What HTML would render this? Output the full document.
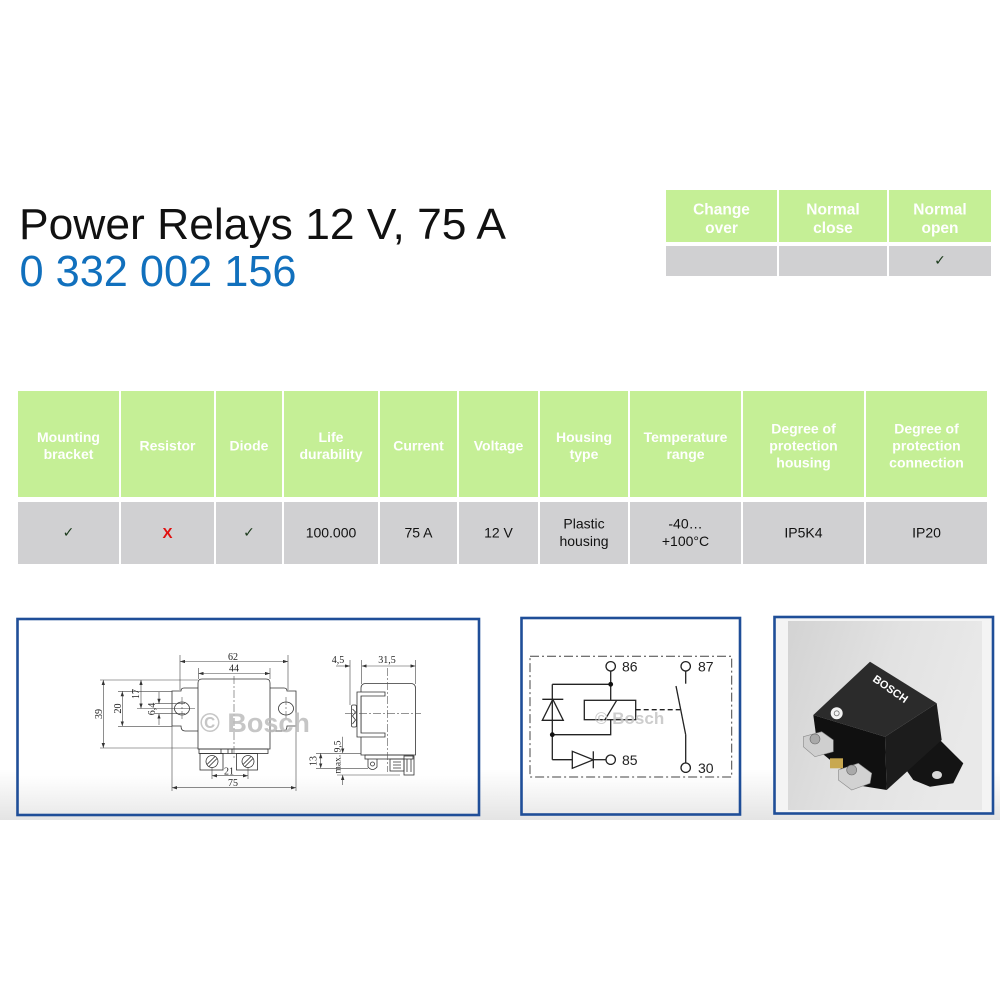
<!DOCTYPE html>
<html><head><meta charset="utf-8">
<style>
html,body{margin:0;padding:0;background:#fff;width:1000px;height:1000px;overflow:hidden;}
svg{display:block;}
</style></head><body>
<svg width="1000" height="1000" viewBox="0 0 1000 1000" xmlns="http://www.w3.org/2000/svg" font-family="'Liberation Sans', Arial, sans-serif">
<defs>
<linearGradient id="band" x1="0" y1="0" x2="0" y2="1">
 <stop offset="0" stop-color="#ffffff"/><stop offset="0.78" stop-color="#ffffff"/><stop offset="1" stop-color="#e4e4e4"/>
</linearGradient>
<linearGradient id="pin" x1="0" y1="0" x2="0" y2="1">
 <stop offset="0" stop-color="#ffffff"/><stop offset="0.8" stop-color="#ffffff"/><stop offset="1" stop-color="#eaeaea"/>
</linearGradient>
<linearGradient id="photo" x1="0" y1="0" x2="1" y2="0.3">
 <stop offset="0" stop-color="#d3d3d3"/><stop offset="0.55" stop-color="#e2e2e2"/><stop offset="1" stop-color="#e9e9e9"/>
</linearGradient>
<marker id="ar" viewBox="0 0 6 4" refX="6" refY="2" markerWidth="5" markerHeight="3.4" orient="auto-start-reverse" markerUnits="userSpaceOnUse"><path d="M0,0 L6,2 L0,4z" fill="#333"/></marker>
</defs>

<!-- background band -->
<rect x="0" y="590" width="1000" height="230" fill="url(#band)"/>

<!-- Title -->
<text x="19" y="239" font-size="44" fill="#111" textLength="487" lengthAdjust="spacingAndGlyphs">Power Relays 12 V, 75 A</text>
<text x="19.5" y="286" font-size="44" fill="#1170bd" textLength="277" lengthAdjust="spacingAndGlyphs">0 332 002 156</text>

<!-- Top right table -->
<g fill="#c5ef96">
<rect x="666" y="190" width="111" height="52"/>
<rect x="779" y="190" width="108" height="52"/>
<rect x="889" y="190" width="102" height="52"/>
</g>
<g fill="#d0d0d2">
<rect x="666" y="246" width="111" height="30"/>
<rect x="779" y="246" width="108" height="30"/>
<rect x="889" y="246" width="102" height="30"/>
</g>
<g fill="#ffffff" font-weight="bold" font-size="15.5" text-anchor="middle">
<text x="721.5" y="214.5">Change</text><text x="721.5" y="233">over</text>
<text x="833" y="214.5">Normal</text><text x="833" y="233">close</text>
<text x="940" y="214.5">Normal</text><text x="940" y="233">open</text>
</g>
<text x="940" y="265" font-size="14" text-anchor="middle" fill="#1b3a1b" font-family="'DejaVu Sans', sans-serif">✓</text>

<!-- Main table -->
<g fill="#c5ef96">
<rect x="18" y="391" width="101" height="106"/>
<rect x="121" y="391" width="93" height="106"/>
<rect x="216" y="391" width="66" height="106"/>
<rect x="284" y="391" width="94" height="106"/>
<rect x="380" y="391" width="77" height="106"/>
<rect x="459" y="391" width="79" height="106"/>
<rect x="540" y="391" width="88" height="106"/>
<rect x="630" y="391" width="111" height="106"/>
<rect x="743" y="391" width="121" height="106"/>
<rect x="866" y="391" width="121" height="106"/>
</g>
<g fill="#d0d0d2">
<rect x="18" y="502" width="101" height="62"/>
<rect x="121" y="502" width="93" height="62"/>
<rect x="216" y="502" width="66" height="62"/>
<rect x="284" y="502" width="94" height="62"/>
<rect x="380" y="502" width="77" height="62"/>
<rect x="459" y="502" width="79" height="62"/>
<rect x="540" y="502" width="88" height="62"/>
<rect x="630" y="502" width="111" height="62"/>
<rect x="743" y="502" width="121" height="62"/>
<rect x="866" y="502" width="121" height="62"/>
</g>
<g fill="#ffffff" font-weight="bold" font-size="14" text-anchor="middle">
<text x="68.5" y="442">Mounting</text><text x="68.5" y="459">bracket</text>
<text x="167.5" y="450.7">Resistor</text>
<text x="249" y="450.7">Diode</text>
<text x="331" y="442">Life</text><text x="331" y="459">durability</text>
<text x="418.5" y="450.7">Current</text>
<text x="498.5" y="450.7">Voltage</text>
<text x="584" y="442">Housing</text><text x="584" y="459">type</text>
<text x="685.5" y="442">Temperature</text><text x="685.5" y="459">range</text>
<text x="803.5" y="433.3">Degree of</text><text x="803.5" y="450.5">protection</text><text x="803.5" y="467.3">housing</text>
<text x="926.5" y="433.3">Degree of</text><text x="926.5" y="450.5">protection</text><text x="926.5" y="467.3">connection</text>
</g>
<g font-size="14" text-anchor="middle" fill="#111">
<text x="68.5" y="537" fill="#1b3a1b" font-family="'DejaVu Sans', sans-serif">✓</text>
<text x="167.5" y="538" fill="#e01010" font-weight="bold" font-size="15">X</text>
<text x="249" y="537" fill="#1b3a1b" font-family="'DejaVu Sans', sans-serif">✓</text>
<text x="331" y="537.7">100.000</text>
<text x="418.5" y="537.7">75 A</text>
<text x="498.5" y="537.7">12 V</text>
<text x="584" y="528.3">Plastic</text><text x="584" y="546">housing</text>
<text x="685.5" y="528.3">-40…</text><text x="685.5" y="546">+100°C</text>
<text x="803.5" y="537.7">IP5K4</text>
<text x="926.5" y="537.7">IP20</text>
</g>

<!-- Panels -->
<rect x="17.5" y="619" width="461.5" height="196" fill="url(#pin)" stroke="#1f4e98" stroke-width="2.6"/>
<rect x="521.5" y="618" width="218.5" height="196.5" fill="url(#pin)" stroke="#1f4e98" stroke-width="2.6"/>
<rect x="774.5" y="617" width="218.5" height="196.5" fill="#f4f4f4" stroke="#1f4e98" stroke-width="2.6"/>

<!-- Panel 1 drawing -->
<g stroke="#333" stroke-width="0.8" fill="none">
 <path d="M198,749 L198,683 Q198,679 202,679 L266,679 Q270,679 270,683 L270,749 Z"/>
 <path d="M198,688 L184,688 Q181,688 181,691 L172,691 L172,726 L181,726 Q181,731 185,731 L198,731"/>
 <path d="M270,688 L284,688 Q287,688 287,691 L296,691 L296,726 L287,726 Q287,731 283,731 L270,731"/>
 <ellipse cx="182" cy="708.5" rx="7.5" ry="6.5"/>
 <ellipse cx="286" cy="708.5" rx="7.5" ry="6.5"/>
 <rect x="199" y="749" width="69" height="4.5"/>
 <line x1="221" y1="749" x2="221" y2="753.5"/><line x1="228" y1="749" x2="228" y2="753.5"/><line x1="232" y1="749" x2="232" y2="753.5"/>
 <rect x="200" y="753.5" width="23" height="16.5"/>
 <rect x="236.5" y="753.5" width="21" height="16.5"/>
 <circle cx="212" cy="761.5" r="6"/>
 <circle cx="248" cy="761.5" r="6"/>
 <path d="M207,764.5 L215,756.5 M209,766.5 L217,758.5"/>
 <path d="M243,764.5 L251,756.5 M245,766.5 L253,758.5"/>
</g>
<g stroke="#555" stroke-width="0.6" fill="none" stroke-dasharray="8 2 2 2">
 <line x1="234" y1="676" x2="234" y2="760"/>
 <line x1="182" y1="697" x2="182" y2="721"/>
 <line x1="286" y1="697" x2="286" y2="721"/>
</g>
<g stroke="#444" stroke-width="0.6" fill="none">
 <line x1="180" y1="661.5" x2="288" y2="661.5" marker-start="url(#ar)" marker-end="url(#ar)"/>
 <line x1="180" y1="655" x2="180" y2="690"/><line x1="288" y1="655" x2="288" y2="690"/>
 <line x1="198.5" y1="673.5" x2="270" y2="673.5" marker-start="url(#ar)" marker-end="url(#ar)"/>
 <line x1="198.5" y1="668" x2="198.5" y2="679"/><line x1="270" y1="668" x2="270" y2="679"/>
 <line x1="172" y1="787.7" x2="296" y2="787.7" marker-start="url(#ar)" marker-end="url(#ar)"/>
 <line x1="172" y1="726" x2="172" y2="791"/><line x1="296" y1="726" x2="296" y2="791"/>
 <line x1="212" y1="775.7" x2="248" y2="775.7" marker-start="url(#ar)" marker-end="url(#ar)"/>
 <line x1="212" y1="767" x2="212" y2="779"/><line x1="248" y1="767" x2="248" y2="779"/>
 <line x1="100" y1="680" x2="198" y2="680"/><line x1="100" y1="748" x2="198" y2="748"/>
 <line x1="103.3" y1="680" x2="103.3" y2="748" marker-start="url(#ar)" marker-end="url(#ar)"/>
 <line x1="118" y1="691.3" x2="172" y2="691.3"/><line x1="118" y1="726.3" x2="172" y2="726.3"/>
 <line x1="122.3" y1="691.3" x2="122.3" y2="726.3" marker-start="url(#ar)" marker-end="url(#ar)"/>
 <line x1="137" y1="708.5" x2="195" y2="708.5"/>
 <line x1="141" y1="680" x2="141" y2="708.5" marker-start="url(#ar)" marker-end="url(#ar)"/>
 <line x1="155" y1="703.7" x2="185" y2="703.7"/><line x1="155" y1="713.7" x2="185" y2="713.7"/>
 <line x1="159" y1="692" x2="159" y2="703.7" marker-end="url(#ar)"/>
 <line x1="159" y1="725" x2="159" y2="713.7" marker-end="url(#ar)"/>
</g>
<g font-family="'Liberation Serif', serif" font-size="10" fill="#222" text-anchor="middle">
 <text x="233" y="660">62</text>
 <text x="234" y="671.5">44</text>
 <text x="233" y="786">75</text>
 <text x="229" y="774.5">21</text>
 <text transform="translate(102,714) rotate(-90)">39</text>
 <text transform="translate(121,708.5) rotate(-90)">20</text>
 <text transform="translate(139,694) rotate(-90)">17</text>
 <text transform="translate(155,709) rotate(-90)">6,4</text>
 <text x="338" y="663">4,5</text>
 <text x="387" y="663">31,5</text>
 <text transform="translate(316.5,761) rotate(-90)">13</text>
 <text transform="translate(340.5,757) rotate(-90)" font-size="9.5">max. 9,5</text>
</g>
<g stroke="#333" stroke-width="0.8" fill="none">
 <path d="M361,755 L361,688 Q361,683.5 366,683.5 L410.5,683.5 Q415.5,683.5 415.5,688 L415.5,755 Z"/>
 <path d="M385,692 L357,692 L357,737 L385,737 L385,733 L361,733 L361,696 L385,696 Z" fill="#fff"/>
 <rect x="351.5" y="705" width="5" height="22" rx="1.5"/>
 <path d="M352.5,709 L355.5,712 L352.5,716 L355.5,720 L352.5,724"/>
 <rect x="365" y="755" width="48" height="4"/>
 <path d="M368,759 L368,767 Q372.5,772 377,767 L377,759"/>
 <circle cx="372.5" cy="764" r="2"/>
 <rect x="390" y="759" width="14" height="12"/>
 <rect x="404" y="756" width="10" height="19"/>
 <path d="M393,762 L401,762 M393,765 L401,765 M393,768 L401,768 M407,759 L407,772 M411,759 L411,772"/>
</g>
<g stroke="#555" stroke-width="0.6" fill="none" stroke-dasharray="8 2 2 2">
 <line x1="345" y1="713.3" x2="421" y2="713.3"/>
 <line x1="387.7" y1="668" x2="387.7" y2="772"/>
</g>
<g stroke="#444" stroke-width="0.6" fill="none">
 <line x1="336" y1="666" x2="350" y2="666" marker-end="url(#ar)"/>
 <line x1="361.7" y1="666" x2="415.5" y2="666" marker-start="url(#ar)" marker-end="url(#ar)"/>
 <line x1="350" y1="660" x2="350" y2="705"/><line x1="361.7" y1="660" x2="361.7" y2="684"/><line x1="415.5" y1="660" x2="415.5" y2="684"/>
 <line x1="316" y1="753.3" x2="361" y2="753.3"/><line x1="316" y1="768.3" x2="368" y2="768.3"/>
 <line x1="320.7" y1="753.3" x2="320.7" y2="768.3" marker-start="url(#ar)" marker-end="url(#ar)"/>
 <line x1="337" y1="775" x2="400" y2="775"/>
 <line x1="342.7" y1="736.7" x2="342.7" y2="753.3" marker-end="url(#ar)"/>
 <line x1="342.7" y1="785" x2="342.7" y2="775" marker-end="url(#ar)"/>
</g>
<text x="200" y="732" font-size="27" font-weight="bold" fill="#bcbcbc" fill-opacity="0.85">© Bosch</text>

<!-- Panel 2 schematic -->
<rect x="530" y="656.3" width="201.7" height="120.7" fill="none" stroke="#444" stroke-width="1" stroke-dasharray="9 3 2 3"/>
<g stroke="#222" stroke-width="1.3" fill="none">
 <line x1="610.7" y1="671" x2="610.7" y2="700.3"/>
 <line x1="552.3" y1="684.3" x2="610.7" y2="684.3"/>
 <line x1="552.3" y1="684.3" x2="552.3" y2="759.7"/>
 <path d="M542.3,720.3 L563.3,720.3 L552.8,699.3 Z"/>
 <line x1="542.3" y1="699.3" x2="563.3" y2="699.3"/>
 <path d="M552.3,734.7 L610.7,734.7 L610.7,719.7"/>
 <rect x="584.3" y="700.3" width="51.4" height="19.4"/>
 <line x1="605" y1="719.7" x2="616.7" y2="700.3"/>
 <line x1="635.7" y1="709.7" x2="680" y2="709.7" stroke-dasharray="5 3"/>
 <line x1="552.3" y1="759.7" x2="572.3" y2="759.7"/>
 <path d="M572.3,751.3 L572.3,768.3 L593.3,759.8 Z"/>
 <line x1="593.3" y1="751.3" x2="593.3" y2="768.3"/>
 <line x1="593.3" y1="759.7" x2="606" y2="759.7"/>
 <line x1="685.7" y1="671" x2="685.7" y2="683.7"/>
 <line x1="676" y1="686" x2="685.7" y2="734.7"/>
 <line x1="685.7" y1="734.7" x2="685.7" y2="763"/>
 <circle cx="610.7" cy="666.3" r="4.7" fill="#fff"/>
 <circle cx="685.7" cy="666.3" r="4.7" fill="#fff"/>
 <circle cx="610.7" cy="759.7" r="4.7" fill="#fff"/>
 <circle cx="685.7" cy="767.7" r="4.7" fill="#fff"/>
</g>
<circle cx="610.7" cy="684.3" r="2.4" fill="#111"/>
<circle cx="552.3" cy="734.7" r="2.4" fill="#111"/>
<g font-size="14" fill="#222">
 <text x="622" y="671.5">86</text>
 <text x="698" y="671.5">87</text>
 <text x="622" y="765">85</text>
 <text x="698" y="773">30</text>
</g>
<text x="595" y="724" font-size="17" font-weight="bold" fill="#c4c4c4" fill-opacity="0.85">© Bosch</text>

<!-- Panel 3 photo -->
<rect x="788" y="621" width="194" height="189" fill="url(#photo)"/>
<path d="M905,768.3 L936.7,736.7 L963.3,763.3 L953.3,783.3 L930,786.7 L913.3,780 Z" fill="#141414"/>
<ellipse cx="937" cy="775" rx="5" ry="4" fill="#d8d8d8"/>
<path d="M813.3,715 L885,736.7 L886.7,790 L862,786 L818,750 Z" fill="#101010"/>
<path d="M885,736.7 L936.7,703.3 L941.7,740 L886.7,790 Z" fill="#1c1c1c"/>
<path d="M813.3,715 L870,661.7 L936.7,703.3 L885,736.7 Z" fill="#2b2b2b"/>
<path d="M803.3,736.7 L821.7,731.7 L833.3,740 L833.3,751.7 L815,756.7 L803.3,746.7 Z" fill="#cfcfcf" stroke="#8a8a8a" stroke-width="0.6"/>
<circle cx="815" cy="739" r="5" fill="#a9a9a9" stroke="#666" stroke-width="0.6"/>
<rect x="830" y="758.3" width="13" height="10" fill="#c8a850"/>
<path d="M838.3,770 L858.3,763.3 L871.7,773.3 L870,783.3 L851.7,790 L838.3,780 Z" fill="#d2d2d2" stroke="#8a8a8a" stroke-width="0.6"/>
<circle cx="851.7" cy="770" r="5" fill="#a9a9a9" stroke="#666" stroke-width="0.6"/>
<text transform="translate(888.3,692) rotate(35)" text-anchor="middle" font-size="11" font-weight="bold" fill="#ffffff">BOSCH</text>
<circle cx="836.7" cy="713.3" r="6" fill="#f2f2f2"/>
<circle cx="836.7" cy="713.3" r="2.5" fill="none" stroke="#777" stroke-width="0.8"/>
</svg>
</body></html>
